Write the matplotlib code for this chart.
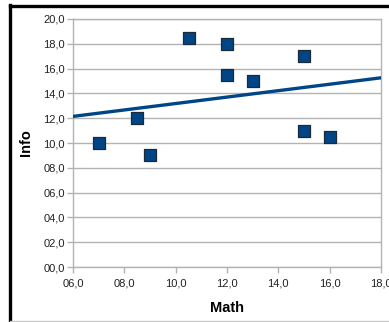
import numpy as np
import matplotlib.pyplot as plt
from matplotlib.lines import Line2D

plt.rcParams['font.family'] = ['Liberation Sans', 'DejaVu Sans']

math_notes = [7, 8.5, 9, 10.5, 12, 12, 13, 15, 15, 16]
info_notes = [10, 12, 9, 18.5, 18, 15.5, 15, 17, 11, 10.5]
xticks = [6, 8, 10, 12, 14, 16, 18]
yticks = [0, 2, 4, 6, 8, 10, 12, 14, 16, 18, 20]

fig = plt.figure(figsize=(3.89, 3.22), dpi=100)
ax = fig.add_axes([0.1877, 0.1708, 0.7917, 0.7702])

gris = '#b3b3b3'
bleu = '#004586'

# droite de regression
a, b = np.polyfit(math_notes, info_notes, 1)
xs = np.array([6, 18])
ax.plot(xs, a * xs + b, color=bleu, lw=2.4, zorder=3)

ax.scatter(math_notes, info_notes, marker='s', s=75, color=bleu,
           edgecolors='#1c2a38', linewidths=0.9, zorder=4)

ax.set_xlim(6, 18)
ax.set_ylim(0, 20)
ax.set_xticks(xticks)
ax.set_yticks(yticks)
ax.set_xticklabels([('%04.1f' % v).replace('.', ',') for v in xticks])
ax.set_yticklabels([('%04.1f' % v).replace('.', ',') for v in yticks])

ax.yaxis.grid(True, color=gris, lw=1)
ax.set_axisbelow(True)
for s in ax.spines.values():
    s.set_color(gris)
    s.set_linewidth(1)
ax.tick_params(direction='out', length=4, color=gris, width=1,
               labelsize=8, labelcolor='#222222', pad=2)
ax.tick_params(axis='x', pad=4)

ax.set_xlabel('Math', fontsize=10.5, fontweight='bold', labelpad=9)
ax.set_ylabel('Info', fontsize=10.5, fontweight='bold', labelpad=7)

# cadre de la capture
fig.add_artist(Line2D([9.5 / 389, 9.5 / 389], [0, 1 - 5 / 322], color='black', lw=2.4))
fig.add_artist(Line2D([9.5 / 389, 1], [1 - 6 / 322, 1 - 6 / 322], color='black', lw=2.4))
fig.add_artist(Line2D([9.5 / 389, 1], [1 - 320.5 / 322, 1 - 320.5 / 322], color='#c8c8c8', lw=1))

plt.savefig('out.png', dpi=100)
